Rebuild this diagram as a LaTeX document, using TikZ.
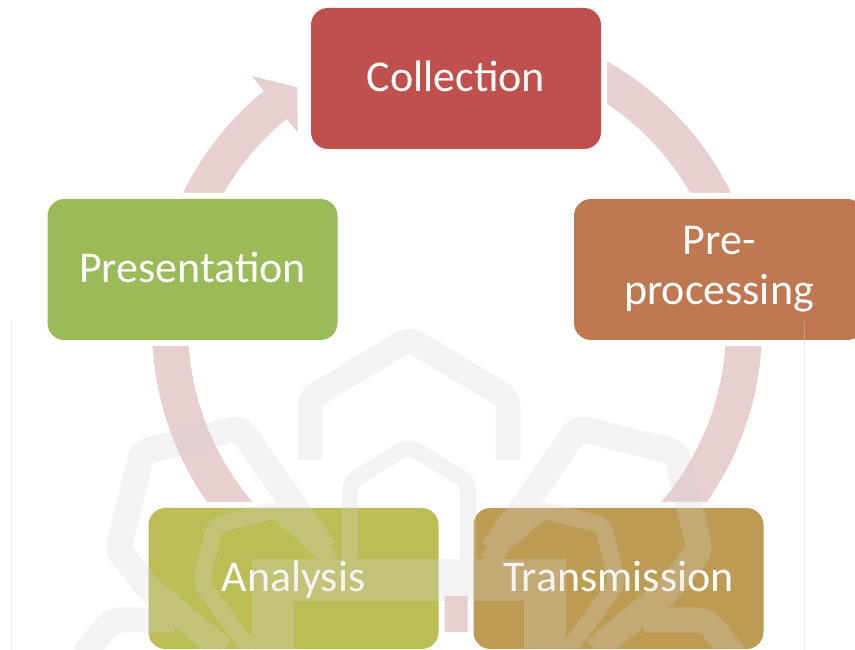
\documentclass[tikz,border=0pt]{standalone}
\usepackage{fontspec}
\setmainfont{Carlito}
\usetikzlibrary{calc}

\definecolor{ringpink}{RGB}{232,207,208}
\definecolor{colred}{RGB}{192,80,77}
\definecolor{preorange}{RGB}{191,120,80}
\definecolor{transgold}{RGB}{190,155,82}
\definecolor{anaolive}{RGB}{188,189,85}
\definecolor{presgreen}{RGB}{155,187,89}
\definecolor{markgray}{RGB}{212,212,212}

\begin{document}
\begin{tikzpicture}[x=1pt, y=1pt,
  stage/.style={rectangle, rounded corners=17pt, minimum width=290pt, minimum height=141pt,
    inner sep=0pt, preaction={draw=white, line width=12pt}, text=white, align=center,
    font=\fontsize{44}{50}\selectfont},
  oneline/.style={text height=26pt, text depth=0pt},
  wmband/.style={draw=markgray, rounded corners=8pt}]
  \useasboundingbox (0,0) rectangle (855,650);

  % Ring with arrow
  \coordinate (hub) at (457,323);
  \draw[ringpink, line width=36pt] (hub) ++(100:287) arc[start angle=100, end angle=-230.7, radius=287];
  \fill[ringpink, shift={(hub)}] (129.3:324.5) -- (123.7:288) -- (129.3:251.5) -- cycle;

  % Stages
  \node[stage, oneline, fill=colred] (collection) at (456,571.5) {Collection};
  \node[stage, fill=preorange, yshift=-1pt] (preprocessing) at (719,381.5) {Pre-\\processing};
  \node[stage, oneline, fill=transgold] (transmission) at (618.5,71.5) {Transmission};
  \node[stage, oneline, fill=anaolive] (analysis) at (293.5,71.5) {Analysis};
  \node[stage, oneline, fill=presgreen] (presentation) at (192.5,380.5) {Presentation};

  % Watermark
  \begin{scope}[transparency group, opacity=0.27, shift={(409,0)}]
    \draw[wmband, line width=25pt] (-99,190) -- (-99,252) -- (0,311) -- (99,252) -- (99,190);
    \draw[wmband, line width=16pt] (-59,70) -- (-59,168) -- (0,204) -- (59,168) -- (59,70);
    \draw[draw=markgray, line width=42pt] (-136,-5) -- (-136,70) -- (136,70) -- (136,-5);
    \foreach \s in {1,-1}{
      \begin{scope}[xscale=\s]
        \draw[wmband, line width=26pt] (-84,100) -- (-169,222) -- (-267,198) -- (-291,100) -- (-259,60) -- (-186,0);
        \draw[wmband, line width=17pt] (-77,90) -- (-133,140) -- (-194,125) -- (-208,67) -- (-159,0);
        \draw[wmband, line width=25pt] (-326,-5) -- (-297,30) -- (-235,30);
      \end{scope}
    }
  \end{scope}

  % Frame lines
  \draw[markgray, opacity=0.4, line width=1pt] (11,0) -- (11,330);
  \draw[markgray, opacity=0.4, line width=1pt] (804,0) -- (804,329);
\end{tikzpicture}
\end{document}
